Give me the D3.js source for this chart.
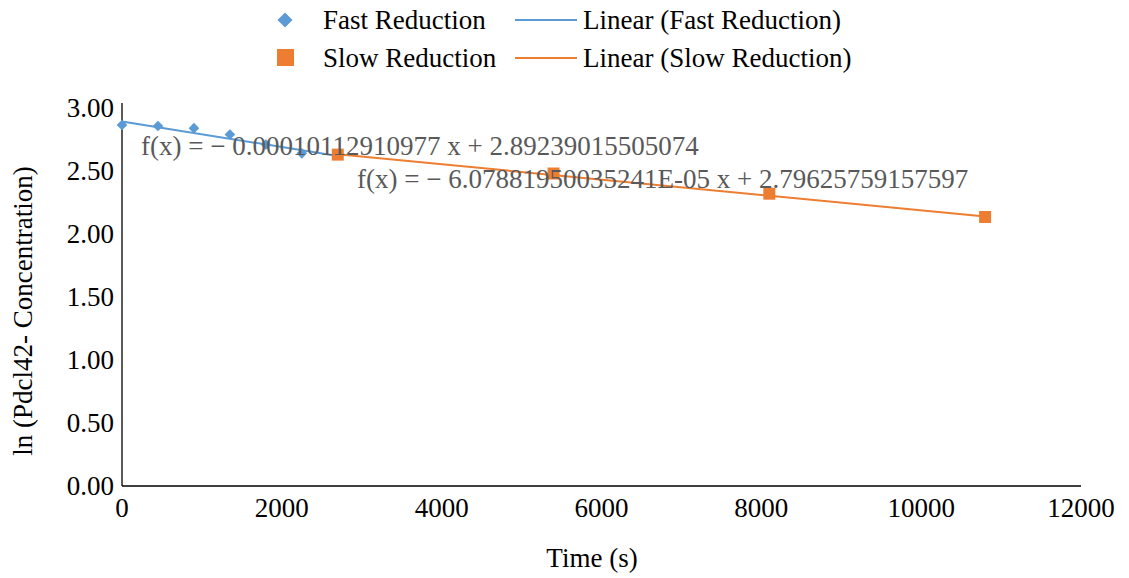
<!DOCTYPE html>
<html><head><meta charset="utf-8">
<script src="https://cdn.jsdelivr.net/npm/d3@7"></script>
<style>body{margin:0;background:#fff}svg{display:block}text{font-family:"Liberation Serif","DejaVu Serif",serif}</style>
</head><body><svg width="1129" height="578"></svg>
<script>
const fastX = [0, 450, 900, 1350, 1800, 2250, 2700];
const fastY = [2.865, 2.857, 2.84, 2.79, 2.71, 2.64, 2.63];
const slowX = [2700, 5400, 8100, 10800];
const slowY = [2.63, 2.48, 2.32, 2.135];
const fastFit = {slope: -0.00010112910977, intercept: 2.89239015505074, label: "f(x) = − 0.00010112910977 x + 2.89239015505074"};
const slowFit = {slope: -6.07881950035241e-05, intercept: 2.79625759157597, label: "f(x) = − 6.07881950035241E-05 x + 2.79625759157597"};
const xTicks = [0, 2000, 4000, 6000, 8000, 10000, 12000];
const yTicks = [0, 0.5, 1, 1.5, 2, 2.5, 3];
const blue = "#5b9bd5", orange = "#ed7d31";
const FS = 27;

const svg = d3.select("svg");
const x = d3.scaleLinear().domain([0, 12000]).range([122, 1081]);
const y = d3.scaleLinear().domain([0, 3]).range([486, 108]);

// axes
svg.append("line").attr("x1", 122).attr("x2", 122).attr("y1", 103).attr("y2", 486).attr("stroke", "#000").attr("stroke-width", 1.3);
svg.append("line").attr("x1", 122).attr("x2", 1081).attr("y1", 486).attr("y2", 486).attr("stroke", "#000").attr("stroke-width", 1.3);
svg.selectAll(".yt").data(yTicks).enter().append("text").attr("x", 114).attr("y", d => y(d) + 9)
  .attr("text-anchor", "end").attr("font-size", FS).attr("fill", "#000").text(d => d.toFixed(2));
svg.selectAll(".xt").data(xTicks).enter().append("text").attr("x", d => x(d)).attr("y", 517)
  .attr("text-anchor", "middle").attr("font-size", FS).attr("fill", "#000").text(d => d);
svg.append("text").attr("x", 592).attr("y", 567).attr("text-anchor", "middle").attr("font-size", FS).text("Time (s)");
svg.append("text").attr("transform", "translate(32,311) rotate(-90)").attr("text-anchor", "middle").attr("font-size", FS).text("ln (Pdcl42- Concentration)");

// trend lines
function trend(fit, x0, x1, color) {
  svg.append("line").attr("x1", x(x0)).attr("y1", y(fit.intercept + fit.slope * x0))
    .attr("x2", x(x1)).attr("y2", y(fit.intercept + fit.slope * x1)).attr("stroke", color).attr("stroke-width", 2);
}
trend(fastFit, d3.min(fastX), d3.max(fastX), blue);
trend(slowFit, d3.min(slowX), d3.max(slowX), orange);

// points
const sym = d3.symbol().type(d3.symbolDiamond2).size(72);
svg.selectAll(".fp").data(fastX).enter().append("path").attr("d", sym)
  .attr("transform", (d, i) => `translate(${x(d)},${y(fastY[i])})`).attr("fill", blue);
svg.selectAll(".sp").data(slowX).enter().append("rect")
  .attr("x", d => x(d) - 6).attr("y", (d, i) => y(slowY[i]) - 6).attr("width", 12).attr("height", 12).attr("fill", orange);

// equations
svg.append("text").attr("x", 141).attr("y", 155).attr("font-size", FS).attr("fill", "#595959").text(fastFit.label);
svg.append("text").attr("x", 357).attr("y", 188).attr("font-size", FS).attr("fill", "#595959").text(slowFit.label);

// legend
const lg = svg.append("g");
lg.append("path").attr("d", d3.symbol().type(d3.symbolDiamond2).size(145)).attr("transform", "translate(285,20)").attr("fill", blue);
lg.append("text").attr("x", 323).attr("y", 29).attr("font-size", FS).text("Fast Reduction");
lg.append("line").attr("x1", 515).attr("x2", 577).attr("y1", 20).attr("y2", 20).attr("stroke", blue).attr("stroke-width", 2);
lg.append("text").attr("x", 583).attr("y", 29).attr("font-size", FS).text("Linear (Fast Reduction)");
lg.append("rect").attr("x", 277).attr("y", 49).attr("width", 17).attr("height", 17).attr("fill", orange);
lg.append("text").attr("x", 323).attr("y", 67).attr("font-size", FS).text("Slow Reduction");
lg.append("line").attr("x1", 515).attr("x2", 577).attr("y1", 58).attr("y2", 58).attr("stroke", orange).attr("stroke-width", 2);
lg.append("text").attr("x", 583).attr("y", 67).attr("font-size", FS).text("Linear (Slow Reduction)");
</script></body></html>
